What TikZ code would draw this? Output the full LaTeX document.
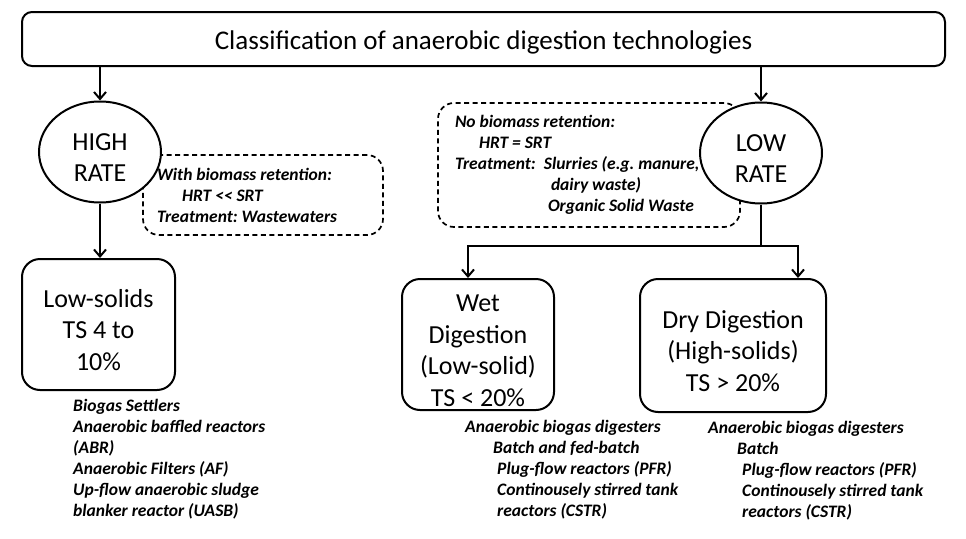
\documentclass[tikz,border=0pt]{standalone}
\usepackage{fontspec}
\setmainfont{Carlito}
\usetikzlibrary{shapes.geometric, arrows.meta, positioning, calc}

\newcommand{\toppad}[1]{\rule{0pt}{#1}}

\tikzset{
    ratebox/.style={ellipse, draw, fill=white, line width=2pt,
        minimum width=122pt, minimum height=101pt, inner sep=0pt,
        align=center, font=\fontsize{26}{31}\selectfont},
    stagebox/.style={rectangle, rounded corners=18pt, draw, fill=white,
        line width=2pt, inner sep=0pt, align=center,
        font=\fontsize{26}{31.5}\selectfont},
    notebox/.style={rectangle, rounded corners=16pt, draw,
        dash pattern=on 5pt off 3.5pt, line width=1.7pt, align=flush left,
        font=\fontsize{17.5}{21}\selectfont\bfseries\itshape\frenchspacing},
    techlist/.style={anchor=north west, inner sep=0pt, align=flush left,
        font=\fontsize{17.5}{21}\selectfont\bfseries\itshape\frenchspacing},
    flow/.style={-{Straight Barb[length=7pt,width=12pt]}, line width=2pt},
}

\begin{document}
\begin{tikzpicture}[x=1pt, y=-1pt]
    \useasboundingbox (0,0) rectangle (966,538);

    % Heading
    \node[rectangle, rounded corners=10pt, draw, line width=2pt,
          minimum width=923pt, minimum height=54pt,
          font=\fontsize{27}{32}\selectfont] (title) at (483.5,39) {
        \toppad{26pt}Classification of anaerobic digestion technologies
    };

    % Dashed notes (behind the ellipses)
    \node[notebox, minimum width=240pt, minimum height=80pt,
          text width=212pt, inner xsep=14pt] (highnote) at (263,195) {
        With biomass retention:\\
        \hspace*{25pt}HRT <\kern0pt< SRT\\
        Treatment: Wastewaters
    };

    \node[notebox, minimum width=302pt, minimum height=124pt,
          text width=268pt, inner xsep=17pt] (lownote) at (589,165) {
        No biomass retention:\\
        \hspace*{24pt}HRT = SRT\\
        \makebox[89pt][l]{Treatment:}Slurries (e.g. manure,\\
        \hspace*{96pt}dairy waste)\\
        \hspace*{93pt}Organic Solid Waste
    };

    % Rates
    \node[ratebox] (high) at (100,152) {\toppad{28pt}HIGH\\RATE};
    \node[ratebox] (low) at (761,153) {\toppad{28pt}LOW\\RATE};

    % Solids content
    \node[stagebox, minimum width=153pt, minimum height=131pt] (lowsolids) at (98.5,324.5) {
        \toppad{29pt}Low-solids\\TS 4 to\\10\%
    };
    \node[stagebox, minimum width=152pt, minimum height=131pt] (wet) at (478,344.5) {
        \toppad{29pt}Wet\\Digestion\\(Low-solid)\\TS < 20\%
    };
    \node[stagebox, minimum width=186pt, minimum height=133pt] (dry) at (733,345.5) {
        \toppad{29pt}Dry Digestion\\(High-solids)\\TS > 20\%
    };

    % Reactor lists
    \node[techlist] (lowlist) at (73,399) {
        Biogas Settlers\\
        Anaerobic baffled reactors\\
        (ABR)\\
        Anaerobic Filters (AF)\\
        Up-flow anaerobic sludge\\
        blanker reactor (UASB)
    };
    \node[techlist] (wetlist) at (465,420) {
        Anaerobic biogas digesters\\
        \hspace*{28pt}Batch and fed-batch\\
        \hspace*{32pt}Plug-flow reactors (PFR)\\
        \hspace*{32pt}Continousely stirred tank\\
        \hspace*{32pt}reactors (CSTR)
    };
    \node[techlist] (drylist) at (708,421) {
        Anaerobic biogas digesters\\
        \hspace*{29pt}Batch\\
        \hspace*{34pt}Plug-flow reactors (PFR)\\
        \hspace*{34pt}Continousely stirred tank\\
        \hspace*{34pt}reactors (CSTR)
    };

    % Arrows
    \draw[flow] (title.south -| high.north) -- (high.north);
    \draw[flow] (title.south -| low.north) -- (low.north);
    \draw[flow] (high.south) -- (high.south |- lowsolids.north);

    \coordinate (split) at ($(low.south)+(0,41)$);
    \draw[line width=2pt] (low.south) -- (split);
    \draw[flow] (split) -| ([xshift=-10pt]wet.north);
    \draw[flow] (split) -| ([xshift=65pt]dry.north);
\end{tikzpicture}
\end{document}
